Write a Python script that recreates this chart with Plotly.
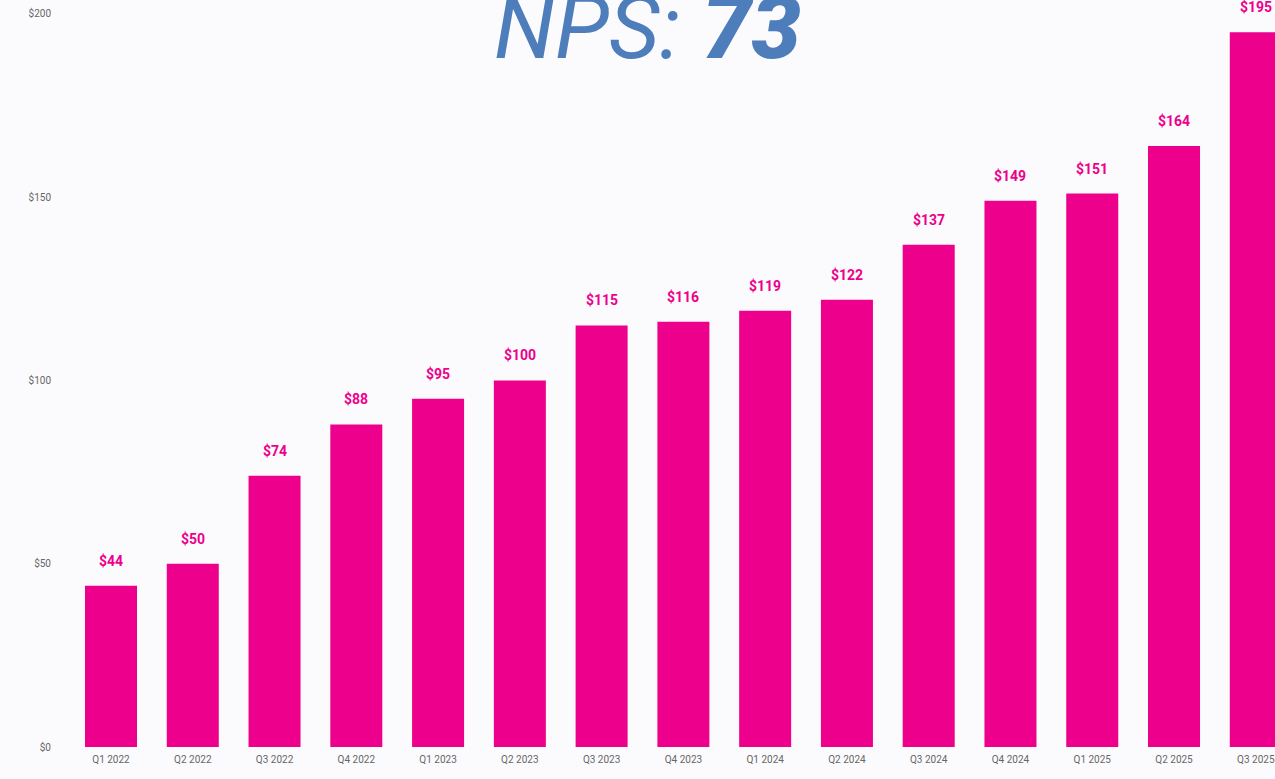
import plotly.graph_objects as go

quarters = ["Q1 2022", "Q2 2022", "Q3 2022", "Q4 2022", "Q1 2023", "Q2 2023", "Q3 2023",
            "Q4 2023", "Q1 2024", "Q2 2024", "Q3 2024", "Q4 2024", "Q1 2025", "Q2 2025", "Q3 2025"]
values = [44, 50, 74, 88, 95, 100, 115, 116, 119, 122, 137, 149, 151, 164, 195]
value_labels = ["$" + str(v) for v in values]
y_ticks = [0, 50, 100, 150, 200]
y_tick_labels = ["$0", "$50", "$100", "$150", "$200"]
title_text = '<i>NPS: </i><i><span style="font-weight:900">73</span></i>'

PINK = "#ec008c"
BG = "#fbfbfd"

fig = go.Figure()
fig.add_trace(go.Bar(
    x=list(range(len(quarters))), y=values,
    marker=dict(color=PINK, line=dict(width=0)),
    width=0.636,
    hoverinfo="skip",
))

for i, (v, t) in enumerate(zip(values, value_labels)):
    fig.add_annotation(x=i, y=v, text=t, showarrow=False, yshift=25,
                       font=dict(family="Roboto", size=14, color=PINK, weight="bold"),
                       xref="x", yref="y")

fig.add_annotation(
    x=6.567, y=196.4, xref="x", yref="y", text=title_text, showarrow=False,
    font=dict(family="Roboto", size=88, color="#4e7dbb"),
    xanchor="center", yanchor="middle",
)

fig.update_layout(
    width=1275, height=779,
    margin=dict(l=63, r=0, t=0, b=32),
    paper_bgcolor=BG, plot_bgcolor=BG,
    showlegend=False,
)
fig.update_xaxes(
    range=[-0.587, 14.235],
    tickmode="array", tickvals=list(range(len(quarters))), ticktext=quarters,
    tickfont=dict(family="Roboto", size=10, color="#666666"),
    showgrid=False, zeroline=False, showline=False, ticks="",
    ticklabelstandoff=5,
)
fig.update_yaxes(
    range=[0, 203.8],
    tickmode="array", tickvals=y_ticks, ticktext=y_tick_labels,
    tickfont=dict(family="Roboto", size=10, color="#666666"),
    showgrid=False, zeroline=False, showline=False, ticks="",
    ticklabelstandoff=11,
)

fig.write_html(
    "out.html",
    config={"displayModeBar": False},
    post_script="document.body.style.margin='0';document.body.style.background='#fbfbfd';",
)
